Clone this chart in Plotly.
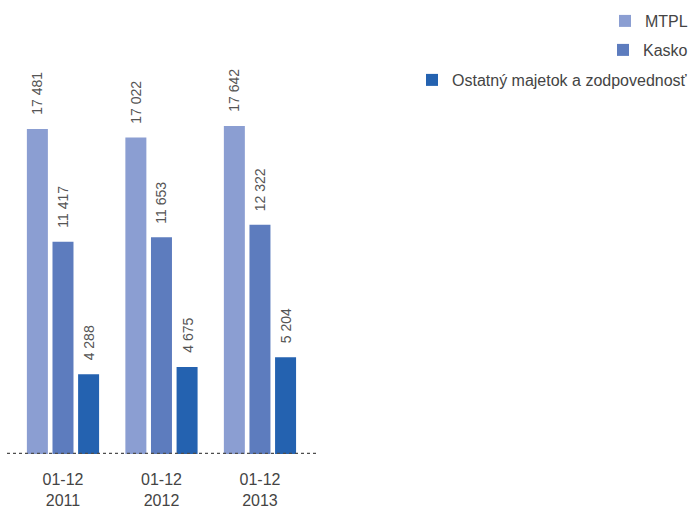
import plotly.graph_objects as go

# Gross written premiums by line of business (periods 01-12)
periods = ["01-12<br>2011", "01-12<br>2012", "01-12<br>2013"]
series_names = ["MTPL", "Kasko", "Ostatný majetok a zodpovednosť"]
mtpl = [17481, 17022, 17642]
kasko = [11417, 11653, 12322]
ostatny = [4288, 4675, 5204]
value_labels = {
    "MTPL": ["17 481", "17 022", "17 642"],
    "Kasko": ["11 417", "11 653", "12 322"],
    "Ostatný majetok a zodpovednosť": ["4 288", "4 675", "5 204"],
}

colors = ["#8b9ed2", "#5d7cbe", "#2462b0"]
FONT = "Liberation Sans, Arial, sans-serif"
W, H = 693, 511

fig = go.Figure()
all_values = [mtpl, kasko, ostatny]
legend_ids = ["legend", "legend2", "legend3"]
for name, vals, col, lg in zip(series_names, all_values, colors, legend_ids):
    fig.add_trace(go.Bar(
        x=list(range(len(periods))), y=vals, name=name,
        marker=dict(color=col, line=dict(width=0)),
        legend=lg, hoverinfo="skip",
    ))

# rotated value labels above each bar
bargap, bargroupgap = 0.22, 0.18
slot = (1 - bargap) / 3
annotations = []
for k, (name, vals) in enumerate(zip(series_names, all_values)):
    for i, v in enumerate(vals):
        annotations.append(dict(
            x=i + (k - 1) * slot, y=v, xref="x", yref="y",
            text=value_labels[name][i], showarrow=False, textangle=-90,
            xanchor="center", yanchor="bottom", yshift=12,
            font=dict(family=FONT, size=14, color="#555555"),
        ))

# dotted baseline
fig.add_shape(type="line", xref="paper", yref="y",
              x0=7 / W, x1=316 / W, y0=0, y1=0,
              line=dict(color="#4d4d4d", width=2.5, dash="dot"))

legend_common = dict(
    x=1, xanchor="right", yanchor="middle", bgcolor="rgba(0,0,0,0)",
    font=dict(family=FONT, size=16, color="#444444"),
    itemsizing="constant", tracegroupgap=0,
)

fig.update_layout(
    width=W, height=H,
    margin=dict(l=0, r=0, t=0, b=0, autoexpand=False),
    paper_bgcolor="white", plot_bgcolor="white",
    barmode="group", bargap=bargap, bargroupgap=bargroupgap,
    showlegend=True,
    legend=dict(y=1 - 21 / H, **legend_common),
    legend2=dict(y=1 - 50 / H, **legend_common),
    legend3=dict(y=1 - 80 / H, **legend_common),
    xaxis=dict(
        domain=[7 / W, 316 / W], range=[-0.5685, 2.569],
        tickmode="array", tickvals=list(range(len(periods))), ticktext=periods,
        showgrid=False, zeroline=False, showline=False, ticks="",
        ticklabelstandoff=14, automargin=False,
        tickfont=dict(family=FONT, size=16, color="#444444"),
    ),
    yaxis=dict(
        domain=[1 - 454 / H, 1 - 30 / H], range=[0, 22800],
        visible=False, showgrid=False, zeroline=False, automargin=False,
    ),
    annotations=annotations,
)

fig.write_html("out.html")
